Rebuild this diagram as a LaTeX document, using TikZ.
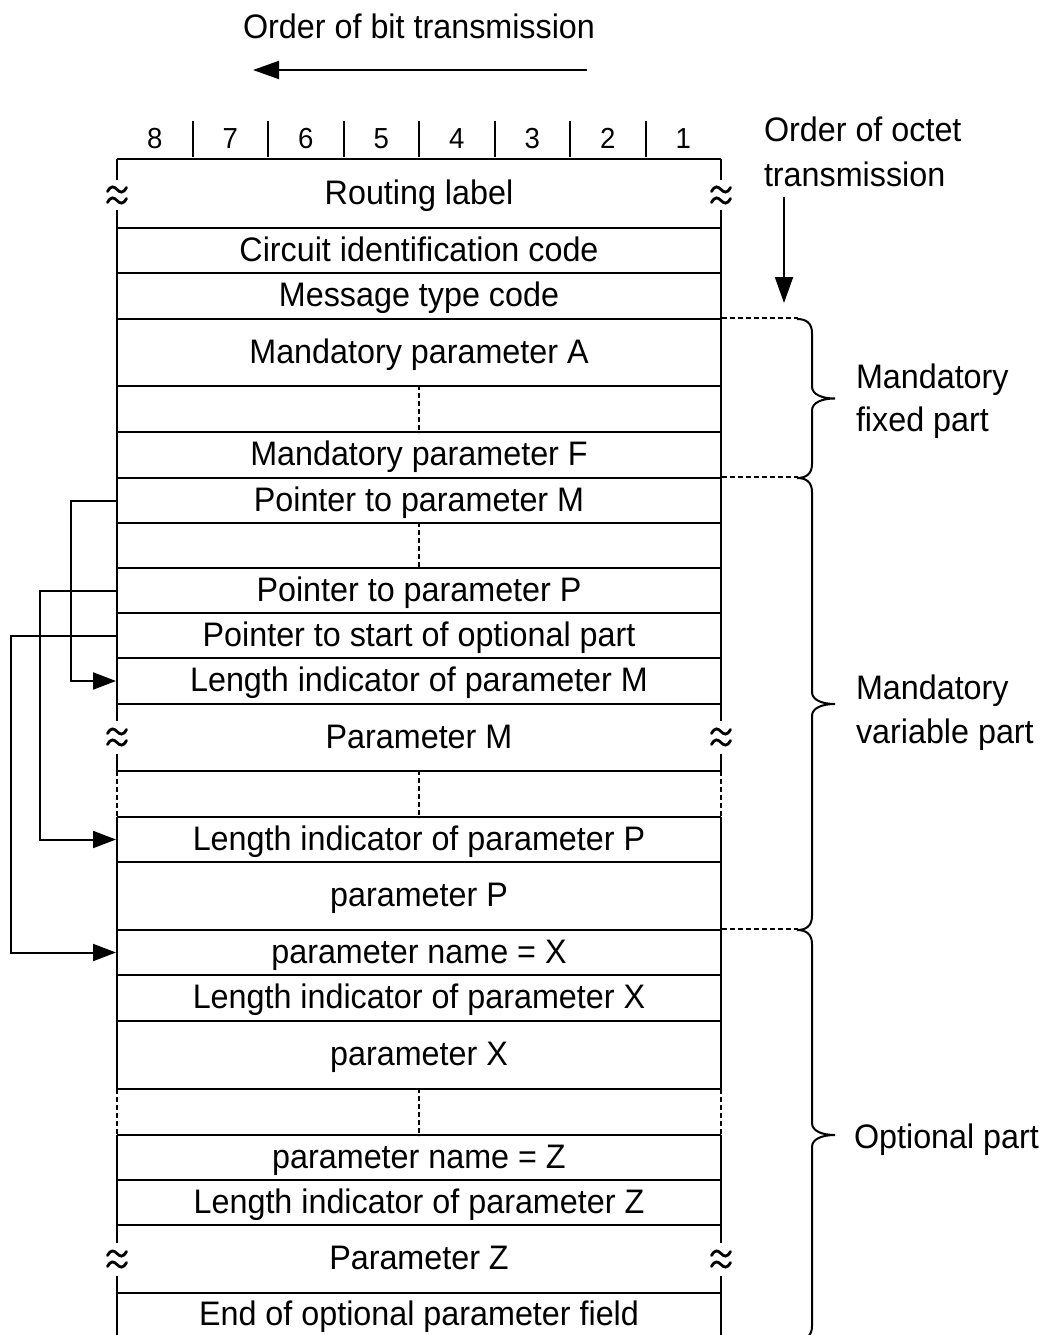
\documentclass[tikz,border=0pt]{standalone}
\usepackage{fontspec}
\setmainfont{Liberation Sans}[FakeStretch=0.95]
\usetikzlibrary{arrows.meta}
\newcommand\onewave[2]{\draw[wave] ({#1-9.5},{#2+2}) .. controls ({#1-6},{#2-4.5}) and ({#1-3},{#2-3}) .. (#1,#2) .. controls ({#1+3},{#2+3}) and ({#1+6},{#2+4.5}) .. ({#1+9.5},{#2-2});}
\newcommand\approxmark[2]{\onewave{#1}{#2-5.5}\onewave{#1}{#2+5.5}}
\newcommand\mybrace[2]{%
  \pgfmathsetmacro\ym{(#1+#2)/2}%
  \draw[bracestyle] (797,#1) .. controls (806,#1) and (812,{#1+4}) .. (812,{#1+14})
     -- (812,{\ym-12}) .. controls (812,{\ym-4}) and (822,\ym) .. (835,\ym)
     .. controls (822,\ym) and (812,{\ym+4}) .. (812,{\ym+12})
     -- (812,{#2-14}) .. controls (812,{#2-4}) and (806,#2) .. (797,#2);}
\begin{document}
\begin{tikzpicture}[x=1pt,y=-1pt,
  line width=2pt,
  every node/.style={font=\fontsize{34}{40}\selectfont, inner sep=0pt},
  row/.style={minimum width=604pt, minimum height=#1, text height=24pt, text depth=3pt},
  digit/.style={font=\fontsize{29}{34}\selectfont},
  thindash/.style={line width=1.2pt, dash pattern=on 5pt off 3pt},
  wave/.style={line width=2.8pt, line cap=round},
  bracestyle/.style={line width=2pt},
  ptr/.style={-{Triangle[length=23pt,width=17pt]}},
  bigarrow/.style={-{Triangle[length=26pt,width=18pt]}}]
\useasboundingbox (0,0) rectangle (1043,1335);

% header
\node[anchor=base] (bitorder) at (419,39) {Order of bit transmission};
\coordinate (bitA) at (587,70);
\coordinate (bitB) at (253,70);
\draw[bigarrow] (bitA) -- (bitB);
\foreach \i in {1,...,8} \node[digit, anchor=base] (bit\i) at ({721-75.5*(\i-0.5)},148) {\i};
\foreach \k in {1,...,7} \draw ({117+75.5*\k},121) -- ({117+75.5*\k},157);

\node[anchor=base west] (octetA) at (763,141) {Order of octet};
\node[anchor=base west] (octetB) at (763,186) {transmission};
\coordinate (octA) at (784,197);
\coordinate (octB) at (784,303);
\draw[bigarrow] (octA) -- (octB);

% rows
\node[row=69pt]  (routing) at (419,193.5) {Routing label};
\node[row=45pt]  (cic)     at (419,250.5) {Circuit identification code};
\node[row=46pt]  (mtc)     at (419,296)   {Message type code};
\node[row=67pt]  (mpA)     at (419,352.5) {Mandatory parameter A};
\node[row=46pt]  (dots1)   at (419,409)   {};
\node[row=46pt]  (mpF)     at (419,455)   {Mandatory parameter F};
\node[row=45pt]  (ptrM)    at (419,500.5) {Pointer to parameter M};
\node[row=45pt]  (dots2)   at (419,545.5) {};
\node[row=45pt]  (ptrP)    at (419,590.5) {Pointer to parameter P};
\node[row=45pt]  (ptrO)    at (419,635.5) {Pointer to start of optional part};
\node[row=46pt]  (lenM)    at (419,681)   {Length indicator of parameter M};
\node[row=67pt]  (parM)    at (419,737.5) {Parameter M};
\node[row=46pt]  (dots3)   at (419,794)   {};
\node[row=45pt]  (lenP)    at (419,839.5) {Length indicator of parameter P};
\node[row=68pt]  (parP)    at (419,896)   {parameter P};
\node[row=45pt]  (nameX)   at (419,952.5) {parameter name = X};
\node[row=46pt]  (lenX)    at (419,998)   {Length indicator of parameter X};
\node[row=68pt]  (parX)    at (419,1055)  {parameter X};
\node[row=46pt]  (dots4)   at (419,1112)  {};
\node[row=45pt]  (nameZ)   at (419,1157.5){parameter name = Z};
\node[row=45pt]  (lenZ)    at (419,1202.5){Length indicator of parameter Z};
\node[row=68pt]  (parZ)    at (419,1259)  {Parameter Z};
\node[row=44pt]  (endopt)  at (419,1315)  {End of optional parameter field};

% horizontal lines
\foreach \y in {159,228,273,319,386,432,478,523,568,613,658,704,771,817,862,930,975,1021,1089,1135,1180,1225,1293}
  \draw (117,\y) -- (721,\y);
% side edges
\foreach \x in {117,721} {
  \draw (\x,159) -- (\x,180);
  \approxmark{\x}{195}
  \draw (\x,210) -- (\x,721);
  \approxmark{\x}{737}
  \draw (\x,754) -- (\x,771);
  \draw[thindash] (\x,771) -- (\x,817);
  \draw (\x,817) -- (\x,1089);
  \draw[thindash] (\x,1089) -- (\x,1135);
  \draw (\x,1135) -- (\x,1243);
  \approxmark{\x}{1259}
  \draw (\x,1276) -- (\x,1335);
}
% centre dashes in gap rows
\draw[thindash] (dots1.north) -- (dots1.south);
\draw[thindash] (dots2.north) -- (dots2.south);
\draw[thindash] (dots3.north) -- (dots3.south);
\draw[thindash] (dots4.north) -- (dots4.south);

% pointers
\draw[ptr] (ptrM.west) -- ++(-45,0) |- (lenM.west);
\draw[ptr] (ptrP.west) -- ++(-76,0) |- (lenP.west);
\draw[ptr] (ptrO.west) -- ++(-105,0) |- (nameX.west);

% braces
\draw[thindash] (mpA.north east) -- ++(76,0);
\draw[thindash] (ptrM.north east) -- ++(76,0);
\draw[thindash] (nameX.north east) -- ++(76,0);
\mybrace{319}{478}
\mybrace{478}{930}
\mybrace{930}{1340}

\node[anchor=base west] (fixA) at (855,388) {Mandatory};
\node[anchor=base west] (fixB) at (855,431) {fixed part};
\node[anchor=base west] (varA) at (855,699) {Mandatory};
\node[anchor=base west] (varB) at (855,743) {variable part};
\node[anchor=base west] (opt)  at (853,1148) {Optional part};
\end{tikzpicture}
\end{document}
